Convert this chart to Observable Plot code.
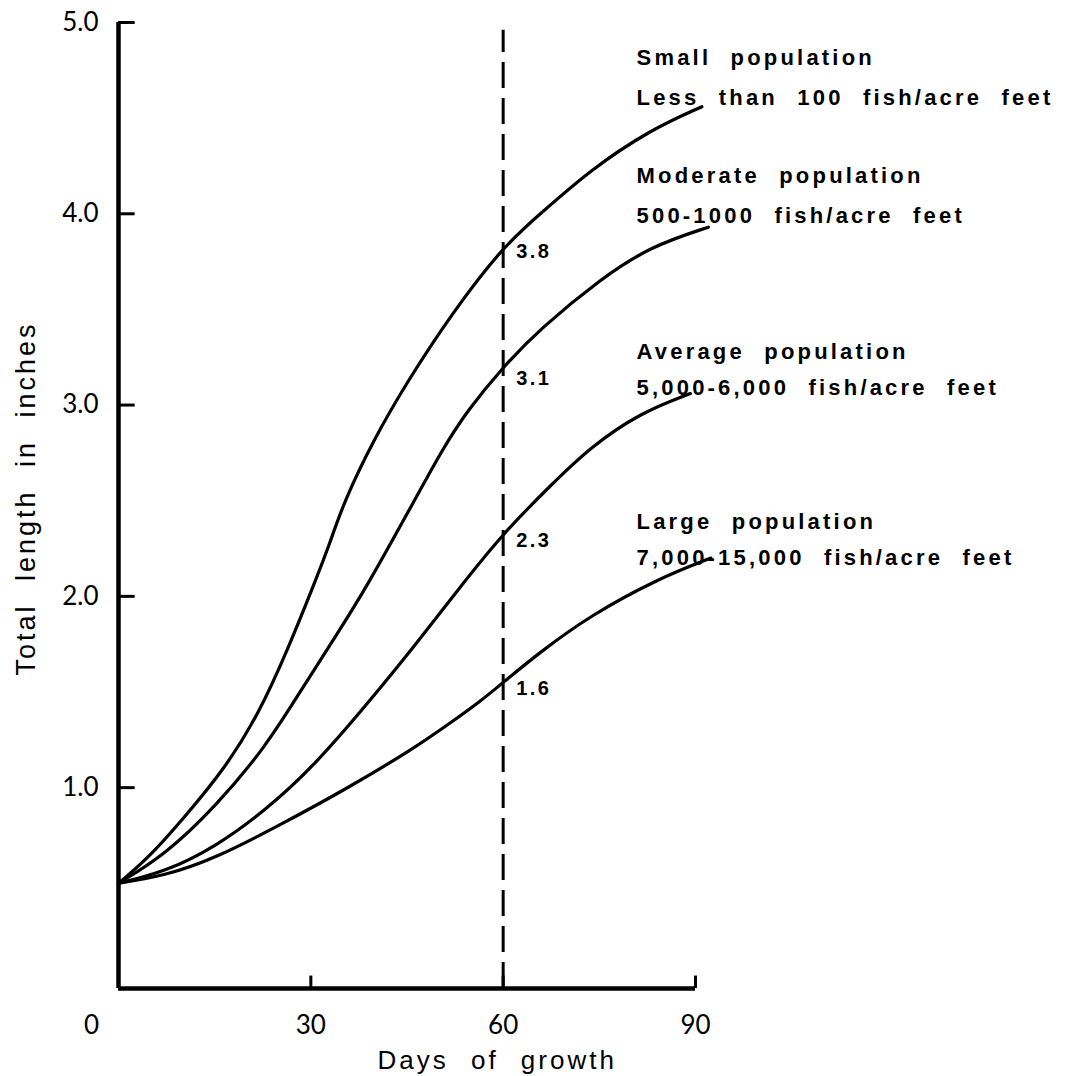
<!DOCTYPE html>
<html>
<head>
<meta charset="utf-8">
<script src="https://cdn.jsdelivr.net/npm/d3@7"></script>
<script src="https://cdn.jsdelivr.net/npm/@observablehq/plot@0.6"></script>
<style>
  body { margin: 0; background: #fff; }
</style>
</head>
<body>
<div id="chart"></div>
<script>
// ---- Data ----
const seriesNames = ["Small", "Moderate", "Average", "Large"];

const smallDays = [0, 4.6, 9.9, 16.6, 21.8, 26.5, 30.7, 33, 35.1, 39.8, 45, 51.8, 60, 65.8, 73.6, 83, 91];
const smallLen  = [0.50, 0.63, 0.83, 1.10, 1.38, 1.73, 2.08, 2.28, 2.49, 2.82, 3.12, 3.47, 3.83, 4.00, 4.23, 4.44, 4.56];

const moderateDays = [0, 7.3, 15.1, 22.9, 28.3, 34.8, 38.7, 45, 50.7, 54.4, 60, 65.8, 75.2, 83, 92];
const moderateLen  = [0.50, 0.65, 0.90, 1.21, 1.50, 1.84, 2.05, 2.43, 2.78, 2.97, 3.20, 3.40, 3.66, 3.83, 3.93];

const averageDays = [0, 7.3, 15.1, 22.9, 30.7, 39.1, 46.4, 53.3, 60, 67.4, 73.6, 81.4, 89.2];
const averageLen  = [0.50, 0.56, 0.69, 0.88, 1.12, 1.45, 1.75, 2.05, 2.33, 2.58, 2.78, 2.96, 3.06];

const largeDays = [0, 7.3, 15.1, 25.5, 35.9, 46.3, 51.4, 56.4, 60, 65.8, 73.6, 84, 92.4];
const largeLen  = [0.50, 0.54, 0.63, 0.81, 1.00, 1.21, 1.33, 1.45, 1.55, 1.71, 1.90, 2.09, 2.20];

const xTicks = [30, 60, 90];
const yTicks = [1, 2, 3, 4, 5];
const markerDay = 60;

const seriesLabelLines = [
  "Small population", "Less than 100 fish/acre feet",
  "Moderate population", "500-1000 fish/acre feet",
  "Average population", "5,000-6,000 fish/acre feet",
  "Large population", "7,000-15,000 fish/acre feet"
];
const seriesLabelY = [4.817, 4.608, 4.200, 3.991, 3.280, 3.087, 2.391, 2.203];
const seriesLabelDay = 80.8;

const valueLabels = ["3.8", "3.1", "2.3", "1.6"];
const valueLabelY = [3.80, 3.14, 2.29, 1.52];

const xTitle = "Days of growth";
const yTitle = "Total length in inches";

// ---- Build tables ----
const seriesDays = [smallDays, moderateDays, averageDays, largeDays];
const seriesLen = [smallLen, moderateLen, averageLen, largeLen];
const curves = seriesNames.flatMap((name, i) =>
  seriesDays[i].map((d, j) => ({series: name, day: d, len: seriesLen[i][j]})));
const seriesLabels = seriesLabelLines.map((t, i) => ({text: t, y: seriesLabelY[i]}));
const valueLabelData = valueLabels.map((t, i) => ({text: t, y: valueLabelY[i]}));

const yMin = -0.05, yMax = 5;
const tickFont = "Lato, 'Open Sans', sans-serif";
const boldFont = "'Liberation Sans', Arial, sans-serif";

const chart = Plot.plot({
  width: 1071,
  height: 1076,
  marginTop: 22,
  marginBottom: 88,
  marginLeft: 118,
  marginRight: 376,
  x: {domain: [0, 90]},
  y: {domain: [yMin, yMax]},
  style: {background: "white", color: "black", overflow: "visible"},
  marks: [
    Plot.axisY(yTicks, {tickSize: 0, tickPadding: 20, tickFormat: d => d.toFixed(1),
      fontSize: 26, fontFamily: tickFont, label: null}),
    Plot.axisX(xTicks, {tickSize: 0, tickPadding: 27, fontSize: 26, fontFamily: tickFont, label: null}),
    Plot.axisX([0], {tickSize: 0, tickPadding: 27, dx: -27, fontSize: 26, fontFamily: tickFont, label: null}),
    Plot.ruleY(yTicks, {x1: 0, x2: 2.6, stroke: "black", strokeWidth: 3}),
    Plot.ruleX(xTicks, {y1: yMin, y2: yMin + 0.065, stroke: "black", strokeWidth: 3}),
    Plot.ruleX([0], {y1: yMin, y2: yMax, stroke: "black", strokeWidth: 4.5}),
    Plot.ruleY([yMin], {x1: 0, x2: 90, stroke: "black", strokeWidth: 4.5}),
    Plot.ruleX([markerDay], {y1: yMin, y2: 4.96, stroke: "black", strokeWidth: 3, strokeDasharray: "26,10"}),
    Plot.line(curves, {x: "day", y: "len", z: "series", stroke: "black", strokeWidth: 3.2, curve: "basis"}),
    Plot.text(valueLabelData, {x: markerDay, y: "y", text: "text", dx: 13, textAnchor: "start",
      fontSize: 20, fontWeight: "bold", fontFamily: boldFont}),
    Plot.text(seriesLabels, {x: seriesLabelDay, y: "y", text: "text", textAnchor: "start",
      fontSize: 22, fontWeight: "bold", fontFamily: boldFont}),
    Plot.text([xTitle], {x: markerDay, y: yMin, dx: -6, dy: 72, text: d => d, fontSize: 26,
      fontFamily: boldFont}),
    Plot.text([yTitle], {frameAnchor: "left", textAnchor: "middle", dx: -92, dy: -7, rotate: -90,
      text: d => d, fontSize: 27, fontFamily: boldFont})
  ]
});

// letter spacing to mimic the spaced lettering of the original
d3.select(chart).selectAll("text").each(function () {
  const t = this.textContent;
  const s = d3.select(this);
  if (seriesLabelLines.includes(t)) s.style("letter-spacing", "3.2px").style("word-spacing", "10px");
  else if (valueLabels.includes(t)) s.style("letter-spacing", "2.5px");
  else if (t === xTitle) s.style("letter-spacing", "3px").style("word-spacing", "12px");
  else if (t === yTitle) s.style("letter-spacing", "3px").style("word-spacing", "12px");
});

document.getElementById("chart").appendChild(chart);
</script>
</body>
</html>
